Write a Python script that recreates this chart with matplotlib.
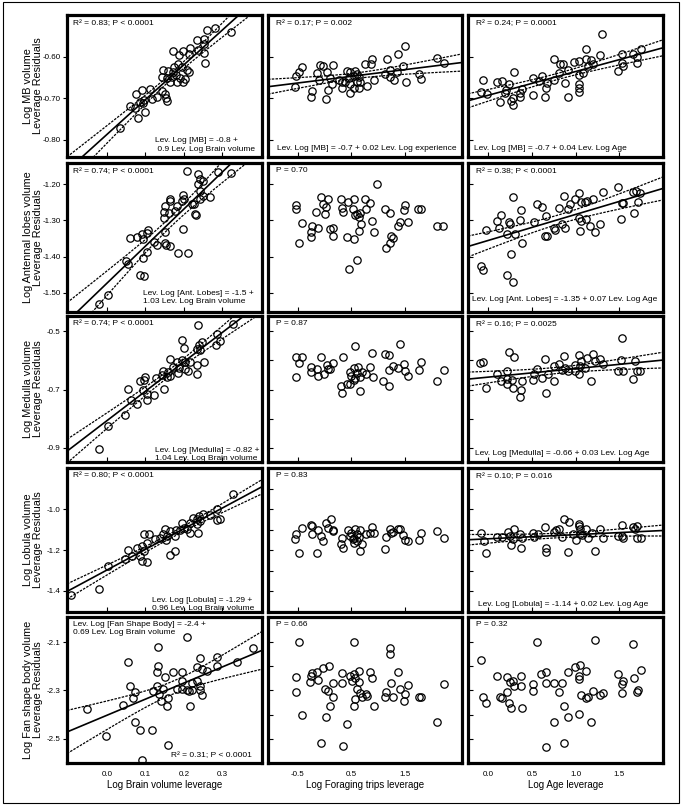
import numpy as np
import matplotlib
matplotlib.use("Agg")
import matplotlib.pyplot as plt
from matplotlib.patches import Rectangle

plt.rcParams['font.family'] = ['Liberation Sans', 'DejaVu Sans']

# ---- column 1: brain volume leverage ----
mb_brain_x = [0.281, 0.259, 0.322, 0.233, 0.251, 0.252, 0.217, 0.237, 0.172, 0.198,
              0.187, 0.214, 0.252, 0.254, 0.185, 0.174, 0.194, 0.146, 0.159, 0.207,
              0.212, 0.142, 0.155, 0.168, 0.179, 0.190, 0.203, 0.181, 0.197, 0.172,
              0.164, 0.075, 0.090, 0.113, 0.142, 0.152, 0.153, 0.155, 0.129, 0.116,
              0.096, 0.086, 0.061, 0.073, 0.100, 0.081, 0.035, 0.094]
mb_brain_y = [-0.530, -0.534, -0.540, -0.560, -0.558, -0.568, -0.578, -0.584, -0.586, -0.586,
              -0.596, -0.592, -0.590, -0.614, -0.616, -0.624, -0.624, -0.632, -0.634, -0.632,
              -0.636, -0.648, -0.650, -0.648, -0.644, -0.650, -0.654, -0.660, -0.660, -0.636,
              -0.660, -0.690, -0.680, -0.678, -0.682, -0.690, -0.698, -0.706, -0.696, -0.702,
              -0.704, -0.708, -0.718, -0.722, -0.732, -0.746, -0.770, -0.712]

al_brain_x = [0.207, 0.237, 0.322, 0.289, 0.241, 0.249, 0.237, 0.241, 0.249, 0.268,
              0.241, 0.197, 0.200, 0.194, 0.164, 0.164, 0.222, 0.226, 0.151, 0.181,
              0.147, 0.160, 0.177, 0.229, 0.231, 0.147, 0.197, 0.151, 0.103, 0.107,
              0.090, 0.093, 0.060, 0.077, 0.122, 0.129, 0.151, 0.153, 0.165, 0.103,
              0.094, 0.185, 0.211, 0.085, 0.097, 0.049, 0.055, 0.003, -0.020]
al_brain_y = [-1.163, -1.172, -1.169, -1.168, -1.186, -1.193, -1.200, -1.219, -1.232, -1.237,
              -1.240, -1.231, -1.242, -1.246, -1.242, -1.246, -1.256, -1.254, -1.260, -1.260,
              -1.277, -1.279, -1.274, -1.284, -1.286, -1.293, -1.323, -1.333, -1.335, -1.327,
              -1.339, -1.353, -1.349, -1.346, -1.361, -1.367, -1.364, -1.367, -1.370, -1.388,
              -1.404, -1.390, -1.390, -1.451, -1.453, -1.411, -1.420, -1.506, -1.531]

med_brain_x = [0.237, 0.328, 0.285, 0.295, 0.283, 0.248, 0.240, 0.235, 0.241, 0.194,
               0.200, 0.233, 0.252, 0.235, 0.164, 0.181, 0.194, 0.203, 0.215, 0.172,
               0.188, 0.203, 0.146, 0.159, 0.185, 0.144, 0.164, 0.155, 0.211, 0.127,
               0.099, 0.085, 0.096, 0.149, 0.055, 0.094, 0.103, 0.123, 0.103, 0.062,
               0.077, 0.046, 0.003, -0.020]
med_brain_y = [-0.479, -0.477, -0.508, -0.534, -0.548, -0.537, -0.548, -0.562, -0.565, -0.531,
               -0.557, -0.617, -0.605, -0.645, -0.594, -0.607, -0.599, -0.605, -0.605, -0.622,
               -0.626, -0.628, -0.637, -0.639, -0.642, -0.649, -0.653, -0.657, -0.637, -0.662,
               -0.657, -0.670, -0.668, -0.699, -0.697, -0.702, -0.714, -0.717, -0.737, -0.734,
               -0.748, -0.786, -0.826, -0.902]

lob_brain_x = [0.328, 0.285, 0.293, 0.285, 0.269, 0.250, 0.239, 0.224, 0.234, 0.241,
               0.217, 0.234, 0.194, 0.200, 0.207, 0.179, 0.190, 0.150, 0.164, 0.237,
               0.216, 0.177, 0.155, 0.146, 0.138, 0.153, 0.096, 0.109, 0.125, 0.103,
               0.090, 0.079, 0.055, 0.064, 0.047, 0.096, 0.086, 0.092, 0.103, 0.177,
               0.164, 0.003, -0.020, -0.094]
lob_brain_y = [-0.926, -0.997, -1.046, -1.053, -1.025, -1.021, -1.030, -1.041, -1.046, -1.058,
               -1.069, -1.074, -1.066, -1.091, -1.095, -1.099, -1.102, -1.095, -1.107, -1.115,
               -1.115, -1.132, -1.132, -1.119, -1.140, -1.148, -1.119, -1.123, -1.145, -1.165,
               -1.178, -1.189, -1.201, -1.227, -1.244, -1.206, -1.227, -1.255, -1.260, -1.206,
               -1.222, -1.277, -1.392, -1.420]

fsb_brain_x = [0.209, 0.133, 0.055, 0.242, 0.285, 0.380, 0.337, 0.133, 0.285, 0.129,
               0.172, 0.196, 0.233, 0.246, 0.259, 0.150, 0.060, 0.073, 0.068, 0.042,
               -0.051, 0.120, 0.129, 0.135, 0.146, 0.140, 0.155, 0.159, 0.181, 0.194,
               0.207, 0.214, 0.220, 0.233, 0.196, 0.220, 0.241, 0.241, 0.246, 0.217,
               0.073, 0.086, 0.118, -0.003, 0.158, 0.090]
fsb_brain_y = [-2.079, -2.121, -2.183, -2.167, -2.163, -2.125, -2.183, -2.197, -2.197, -2.222,
               -2.222, -2.222, -2.204, -2.211, -2.218, -2.246, -2.281, -2.306, -2.333, -2.361,
               -2.378, -2.301, -2.281, -2.314, -2.292, -2.343, -2.364, -2.333, -2.294, -2.292,
               -2.297, -2.301, -2.297, -2.260, -2.260, -2.271, -2.281, -2.299, -2.319, -2.364,
               -2.431, -2.464, -2.464, -2.489, -2.526, -2.589]

# ---- column 2: foraging trips leverage ----
mb_trips_x = [1.50, 1.375, 1.17, 0.877, 0.752, 0.858, 1.469, 2.104, 2.229, 1.22,
              1.363, 1.126, 1.22, 1.30, 1.531, 1.768, 1.811, -0.431, -0.475, -0.537,
              -0.556, -0.245, -0.263, 0.023, -0.139, -0.089, -0.027, 0.036, 0.160, -0.101,
              0.098, 0.067, 0.142, 0.316, 0.316, 0.410, 0.472, 0.565, 0.597, 0.547,
              0.646, 0.460, 0.378, 0.472, 0.597, 0.659, 0.472, 0.547, 0.646, 0.796,
              0.92, 0.273]
mb_trips_y = [-0.574, -0.594, -0.604, -0.604, -0.616, -0.618, -0.621, -0.602, -0.614, -0.632,
              -0.636, -0.640, -0.648, -0.656, -0.660, -0.640, -0.654, -0.624, -0.636, -0.645,
              -0.672, -0.682, -0.696, -0.701, -0.638, -0.620, -0.622, -0.636, -0.620, -0.656,
              -0.650, -0.680, -0.664, -0.660, -0.674, -0.634, -0.636, -0.634, -0.640, -0.646,
              -0.648, -0.650, -0.660, -0.664, -0.660, -0.660, -0.686, -0.674, -0.676, -0.670,
              -0.656, -0.656]

al_trips_x = [0.984, -0.537, -0.537, -0.431, -0.475, -0.245, -0.263, -0.257, -0.120, -0.164,
              -0.070, -0.027, 0.023, 0.067, 0.011, 0.105, 0.154, 0.154, 0.304, 0.316,
              0.347, 0.441, 0.547, 0.534, 0.565, 0.609, 0.659, 0.640, 0.671, 0.646,
              0.547, 0.422, 0.609, 0.460, 0.752, 0.846, 0.783, 0.877, 0.920, 1.126,
              1.22, 1.238, 1.282, 1.22, 1.157, 1.375, 1.419, 1.562, 1.481, 1.50,
              1.749, 1.811, 2.104, 2.217]
al_trips_y = [-1.200, -1.258, -1.270, -1.307, -1.364, -1.316, -1.333, -1.347, -1.321, -1.277,
              -1.237, -1.256, -1.262, -1.242, -1.284, -1.325, -1.321, -1.344, -1.242, -1.265,
              -1.277, -1.249, -1.240, -1.270, -1.286, -1.284, -1.281, -1.290, -1.311, -1.330,
              -1.351, -1.346, -1.409, -1.435, -1.240, -1.251, -1.270, -1.302, -1.333, -1.270,
              -1.281, -1.342, -1.348, -1.364, -1.376, -1.316, -1.304, -1.304, -1.272, -1.258,
              -1.270, -1.270, -1.316, -1.316]

med_trips_x = [-0.537, -0.431, -0.475, -0.544, -0.257, -0.263, -0.139, -0.120, -0.070, -0.014,
               0.036, 0.067, 0.148, 0.098, 0.347, 0.304, 0.328, 0.422, 0.472, 0.472,
               0.565, 0.547, 0.628, 0.497, 0.565, 0.659, 0.597, 0.659, 0.690, 0.771,
               0.846, 0.877, 0.908, 0.547, 1.126, 1.20, 1.207, 1.095, 1.20, 1.282,
               1.407, 1.375, 1.481, 1.50, 1.562, 1.768, 1.811, 2.104, 2.229]
med_trips_y = [-0.589, -0.589, -0.610, -0.657, -0.622, -0.639, -0.630, -0.653, -0.587, -0.645,
               -0.616, -0.628, -0.608, -0.630, -0.590, -0.689, -0.711, -0.680, -0.680, -0.639,
               -0.552, -0.625, -0.622, -0.653, -0.660, -0.657, -0.642, -0.705, -0.639, -0.645,
               -0.624, -0.575, -0.657, -0.668, -0.578, -0.581, -0.633, -0.671, -0.689, -0.618,
               -0.544, -0.625, -0.614, -0.637, -0.654, -0.633, -0.607, -0.671, -0.633]

lob_trips_x = [-0.537, -0.556, -0.431, -0.475, -0.263, -0.245, -0.245, -0.151, -0.120, -0.070,
               -0.027, 0.023, 0.067, 0.111, 0.148, 0.148, 0.316, 0.304, 0.347, 0.441,
               0.472, 0.522, 0.553, 0.565, 0.597, 0.659, 0.646, 0.690, 0.659, 0.783,
               0.846, 0.877, 0.920, 1.126, 1.157, 1.232, 1.25, 1.282, 1.375, 1.419,
               1.469, 1.50, 1.562, 1.768, 1.811, 2.104, 2.229, 0.547, 0.597, 0.497]
lob_trips_y = [-1.123, -1.144, -1.090, -1.215, -1.077, -1.079, -1.123, -1.213, -1.102, -1.131,
               -1.155, -1.066, -1.090, -1.047, -1.102, -1.106, -1.139, -1.171, -1.187, -1.102,
               -1.131, -1.147, -1.163, -1.094, -1.119, -1.103, -1.135, -1.168, -1.203, -1.119,
               -1.115, -1.087, -1.115, -1.195, -1.134, -1.094, -1.115, -1.110, -1.098, -1.094,
               -1.126, -1.152, -1.155, -1.152, -1.118, -1.106, -1.139, -1.142, -1.155, -1.115]

fsb_trips_x = [-0.475, 0.553, 1.22, 1.232, -0.544, -0.537, -0.431, -0.263, -0.245, -0.276,
               -0.139, -0.120, -0.027, 0.080, 0.011, 0.067, 0.148, 0.098, 0.023, -0.070,
               0.160, 0.316, 0.316, 0.347, 0.422, 0.472, 0.503, 0.547, 0.565, 0.646,
               0.646, 0.609, 0.565, 0.553, 0.659, 0.690, 0.771, 0.796, 0.846, 0.877,
               0.920, 1.126, 1.157, 1.238, 1.282, 1.375, 1.419, 1.481, 1.50, 1.562,
               1.768, 1.811, 2.104, 2.229]
fsb_trips_y = [-2.100, -2.100, -2.125, -2.149, -2.246, -2.308, -2.403, -2.239, -2.228, -2.264,
               -2.222, -2.256, -2.208, -2.197, -2.292, -2.304, -2.329, -2.364, -2.410, -2.519,
               -2.269, -2.228, -2.269, -2.528, -2.440, -2.242, -2.260, -2.232, -2.250, -2.218,
               -2.264, -2.292, -2.336, -2.364, -2.311, -2.325, -2.315, -2.322, -2.225, -2.250,
               -2.364, -2.329, -2.308, -2.269, -2.325, -2.222, -2.292, -2.343, -2.315, -2.278,
               -2.329, -2.329, -2.429, -2.274]

# ---- column 3: age leverage ----
mb_age_x = [1.30, 1.121, 1.281, 1.121, 1.034, 0.748, 0.824, 0.862, 0.984, 1.178,
            1.140, 1.205, 1.529, 1.655, 1.75, 1.70, 1.70, 1.529, 1.548, 1.484,
            0.297, 0.908, 1.083, 1.045, 0.816, -0.053, 0.099, 0.156, 0.244, 0.519,
            0.614, 0.587, 0.671, 0.755, 0.881, 0.664, 1.045, 1.045, 1.045, -0.084,
            -0.015, 0.206, 0.191, 0.366, 0.385, 0.290, 0.259, 0.290, 0.137, 0.366,
            0.519, 0.652, 0.919]
mb_age_y = [-0.544, -0.580, -0.596, -0.604, -0.610, -0.606, -0.616, -0.618, -0.612, -0.608,
            -0.622, -0.618, -0.594, -0.592, -0.582, -0.600, -0.614, -0.614, -0.622, -0.634,
            -0.636, -0.632, -0.638, -0.644, -0.638, -0.656, -0.660, -0.658, -0.666, -0.650,
            -0.646, -0.658, -0.662, -0.656, -0.662, -0.674, -0.666, -0.674, -0.684, -0.684,
            -0.690, -0.680, -0.688, -0.686, -0.678, -0.698, -0.706, -0.716, -0.708, -0.696,
            -0.692, -0.696, -0.696]

al_age_x = [0.290, 0.145, 0.107, 0.244, 0.252, 0.130, 0.214, 0.309, 0.385, 0.259,
            0.374, 0.366, -0.027, -0.084, -0.053, 0.214, 0.290, 0.526, 0.557, 0.614,
            0.664, 0.652, 0.671, 0.748, 0.767, 0.812, 0.870, 0.908, 0.931, 0.995,
            1.045, 1.060, 1.110, 1.129, 1.205, 1.312, 0.843, 0.881, 1.045, 1.060,
            1.053, 1.121, 1.167, 1.217, 1.281, 1.491, 1.655, 1.693, 1.739, 1.529,
            1.548, 1.709, 1.663, 1.518]
al_age_y = [-1.237, -1.286, -1.302, -1.304, -1.311, -1.321, -1.337, -1.337, -1.362, -1.392,
            -1.271, -1.299, -1.328, -1.426, -1.437, -1.451, -1.469, -1.304, -1.256, -1.262,
            -1.288, -1.344, -1.344, -1.321, -1.328, -1.265, -1.232, -1.269, -1.256, -1.242,
            -1.226, -1.249, -1.249, -1.246, -1.242, -1.223, -1.311, -1.321, -1.293, -1.302,
            -1.330, -1.296, -1.316, -1.333, -1.311, -1.209, -1.221, -1.220, -1.225, -1.251,
            -1.253, -1.249, -1.281, -1.297]

med_age_x = [1.529, 0.244, 0.297, -0.092, -0.053, -0.027, 0.099, 0.145, 0.214, 0.221,
             0.214, 0.271, 0.290, 0.374, 0.366, 0.385, 0.519, 0.526, 0.564, 0.614,
             0.652, 0.664, 0.690, 0.748, 0.755, 0.805, 0.843, 0.873, 0.881, 0.919,
             0.995, 1.045, 1.060, 1.053, 1.045, 1.110, 1.129, 1.178, 1.205, 1.224,
             1.281, 1.312, 1.491, 1.518, 1.548, 1.655, 1.682, 1.701, 1.739, 0.995]
med_age_y = [-0.523, -0.572, -0.590, -0.608, -0.607, -0.695, -0.645, -0.671, -0.637, -0.665,
             -0.682, -0.668, -0.694, -0.700, -0.726, -0.671, -0.668, -0.645, -0.630, -0.660,
             -0.596, -0.711, -0.645, -0.671, -0.619, -0.614, -0.633, -0.584, -0.625, -0.637,
             -0.637, -0.581, -0.602, -0.619, -0.648, -0.625, -0.593, -0.671, -0.578, -0.602,
             -0.595, -0.614, -0.637, -0.599, -0.637, -0.665, -0.602, -0.637, -0.637, -0.616]

lob_age_x = [0.870, 0.927, 1.045, 1.045, 1.053, -0.084, -0.046, -0.027, 0.107, 0.156,
             0.233, 0.297, 0.252, 0.290, 0.259, 0.366, 0.378, 0.385, 0.519, 0.526,
             0.568, 0.652, 0.664, 0.664, 0.748, 0.774, 0.816, 0.843, 0.919, 1.007,
             1.053, 1.121, 1.137, 1.186, 1.224, 1.281, 1.312, 1.529, 1.529, 1.491,
             1.548, 1.655, 1.701, 1.682, 1.701, 1.747, 0.976, 1.072]
lob_age_y = [-1.045, -1.061, -1.071, -1.082, -1.098, -1.115, -1.155, -1.215, -1.134, -1.134,
             -1.110, -1.098, -1.131, -1.147, -1.174, -1.123, -1.190, -1.142, -1.115, -1.134,
             -1.119, -1.087, -1.190, -1.211, -1.110, -1.103, -1.098, -1.134, -1.211, -1.150,
             -1.119, -1.094, -1.142, -1.115, -1.206, -1.098, -1.139, -1.077, -1.131, -1.131,
             -1.142, -1.087, -1.082, -1.098, -1.142, -1.142, -1.123, -1.126]

fsb_age_x = [0.557, 1.217, 1.655, -0.084, -0.053, -0.027, 0.107, 0.137, 0.156, 0.214,
             0.221, 0.244, 0.259, 0.252, 0.297, 0.290, 0.374, 0.374, 0.393, 0.519,
             0.519, 0.606, 0.660, 0.660, 0.759, 0.812, 0.843, 0.748, 0.873, 0.919,
             0.870, 0.660, 0.908, 0.995, 1.045, 1.053, 1.045, 1.121, 1.060, 1.045,
             1.121, 1.140, 1.175, 1.205, 1.274, 1.312, 1.484, 1.529, 1.548, 1.529,
             1.663, 1.709, 1.701, 1.751]
fsb_age_y = [-2.100, -2.093, -2.107, -2.172, -2.329, -2.350, -2.242, -2.329, -2.333, -2.243,
             -2.308, -2.350, -2.374, -2.264, -2.281, -2.260, -2.239, -2.281, -2.371, -2.274,
             -2.301, -2.232, -2.225, -2.271, -2.271, -2.306, -2.271, -2.431, -2.364, -2.408,
             -2.519, -2.533, -2.222, -2.204, -2.253, -2.194, -2.242, -2.218, -2.319, -2.399,
             -2.333, -2.325, -2.431, -2.301, -2.319, -2.311, -2.232, -2.274, -2.260, -2.311,
             -2.250, -2.297, -2.308, -2.214]

# ---- axes, ticks, labels ----
row_ylabels = ["Log MB volume\nLeverage Residuals",
               "Log Antennal lobes volume\nLeverage Residuals",
               "Log Medulla volume\nLeverage Residuals",
               "Log Lobula volume\nLeverage Residuals",
               "Log Fan shape body volume\nLeverage Residuals"]
col_xlabels = ["Log Brain volume leverage", "Log Foraging trips leverage", "Log Age leverage"]

col_xlims = [(-0.104, 0.403), (-1.06, 2.57), (-0.23, 2.0)]
col_xticks = [[0.0, 0.1, 0.2, 0.3], [-0.5, 0.5, 1.5], [0.0, 0.5, 1.0, 1.5]]
col_xticklabels = [["0.0", "0.1", "0.2", "0.3"], ["-0.5", "0.5", "1.5"], ["0.0", "0.5", "1.0", "1.5"]]

row_ylims = [(-0.841, -0.499), (-1.553, -1.142), (-0.948, -0.448), (-1.503, -0.797), (-2.60, -1.996)]
row_yticks_lab = [[-0.60, -0.70, -0.80], [-1.20, -1.30, -1.40, -1.50], [-0.5, -0.7, -0.9],
                  [-1.0, -1.2, -1.4], [-2.1, -2.3, -2.5]]
row_yticklabels = [["-0.60", "-0.70", "-0.80"], ["-1.20", "-1.30", "-1.40", "-1.50"],
                   ["-0.5", "-0.7", "-0.9"], ["-1.0", "-1.2", "-1.4"], ["-2.1", "-2.3", "-2.5"]]
row_yticks_in = [[-0.60, -0.70, -0.80], [-1.2, -1.3, -1.4, -1.5], [-0.5, -0.6, -0.7, -0.8, -0.9],
                 [-0.9, -1.0, -1.1, -1.2, -1.3, -1.4], [-2.1, -2.2, -2.3, -2.4, -2.5]]

# pixel geometry of the panel frames
col_px = [(67, 262), (268, 462), (468, 663)]
row_px = [(15, 157), (163, 312), (316, 462), (468, 612), (617, 763)]

panels = [
    [(mb_brain_x, mb_brain_y, True), (mb_trips_x, mb_trips_y, True), (mb_age_x, mb_age_y, True)],
    [(al_brain_x, al_brain_y, True), (al_trips_x, al_trips_y, False), (al_age_x, al_age_y, True)],
    [(med_brain_x, med_brain_y, True), (med_trips_x, med_trips_y, False), (med_age_x, med_age_y, True)],
    [(lob_brain_x, lob_brain_y, True), (lob_trips_x, lob_trips_y, False), (lob_age_x, lob_age_y, True)],
    [(fsb_brain_x, fsb_brain_y, True), (fsb_trips_x, fsb_trips_y, False), (fsb_age_x, fsb_age_y, False)],
]

# (text, x, y, ha, va) in axes fraction
panel_texts = [
    [[("R² = 0.83; P < 0.0001", 0.03, 0.965, 'left', 'top'),
      ("Lev. Log [MB] = -0.8 +\n 0.9 Lev. Log Brain volume", 0.45, 0.03, 'left', 'bottom')],
     [("R² = 0.17; P = 0.002", 0.04, 0.965, 'left', 'top'),
      ("Lev. Log [MB] = -0.7 + 0.02 Lev. Log experience", 0.045, 0.035, 'left', 'bottom')],
     [("R² = 0.24; P = 0.0001", 0.04, 0.965, 'left', 'top'),
      ("Lev. Log [MB] = -0.7 + 0.04 Lev. Log Age", 0.03, 0.035, 'left', 'bottom')]],
    [[("R² = 0.74; P < 0.0001", 0.03, 0.965, 'left', 'top'),
      ("Lev. Log [Ant. Lobes] = -1.5 +\n1.03 Lev. Log Brain volume", 0.39, 0.045, 'left', 'bottom')],
     [("P = 0.70", 0.04, 0.975, 'left', 'top')],
     [("R² = 0.38; P < 0.0001", 0.04, 0.965, 'left', 'top'),
      ("Lev. Log [Ant. Lobes] = -1.35 + 0.07 Lev. Log Age", 0.02, 0.06, 'left', 'bottom')]],
    [[("R² = 0.74; P < 0.0001", 0.03, 0.975, 'left', 'top'),
      ("Lev. Log [Medulla] = -0.82 +\n1.04 Lev. Log Brain volume", 0.45, 0.0, 'left', 'bottom')],
     [("P = 0.87", 0.04, 0.975, 'left', 'top')],
     [("R² = 0.16; P = 0.0025", 0.04, 0.965, 'left', 'top'),
      ("Lev. Log [Medulla] = -0.66 + 0.03 Lev. Log Age", 0.035, 0.035, 'left', 'bottom')]],
    [[("R² = 0.80; P < 0.0001", 0.03, 0.975, 'left', 'top'),
      ("Lev. Log [Lobula] = -1.29 +\n0.96 Lev. Log Brain volume", 0.435, 0.0, 'left', 'bottom')],
     [("P = 0.83", 0.04, 0.975, 'left', 'top')],
     [("R² = 0.10; P = 0.016", 0.04, 0.965, 'left', 'top'),
      ("Lev. Log [Lobula] = -1.14 + 0.02 Lev. Log Age", 0.05, 0.03, 'left', 'bottom')]],
    [[("Lev. Log [Fan Shape Body] = -2.4 +\n0.69 Lev. Log Brain volume", 0.03, 0.975, 'left', 'top'),
      ("R² = 0.31; P < 0.0001", 0.95, 0.03, 'right', 'bottom')],
     [("P = 0.66", 0.04, 0.975, 'left', 'top')],
     [("P = 0.32", 0.04, 0.975, 'left', 'top')]],
]


def draw_fit(ax, x, y, xlim):
    x = np.asarray(x)
    y = np.asarray(y)
    n = len(x)
    slope, icpt = np.polyfit(x, y, 1)
    xs = np.linspace(xlim[0], xlim[1], 120)
    yhat = icpt + slope * xs
    resid = y - (icpt + slope * x)
    s = np.sqrt(np.sum(resid ** 2) / (n - 2))
    se = s * np.sqrt(1.0 / n + (xs - x.mean()) ** 2 / np.sum((x - x.mean()) ** 2))
    ax.plot(xs, yhat, color='black', lw=1.2, zorder=2)
    ax.plot(xs, yhat + 2.0 * se, color='black', lw=0.9, ls=(0, (2, 1)), zorder=2)
    ax.plot(xs, yhat - 2.0 * se, color='black', lw=0.9, ls=(0, (2, 1)), zorder=2)


W, H = 681, 805
fig = plt.figure(figsize=(W / 100, H / 100), dpi=100)
fig.patches.append(Rectangle((3 / W, 2 / H), 1 - 5 / W, 1 - 4 / H, transform=fig.transFigure,
                             fill=False, edgecolor='black', lw=0.8))

for r in range(5):
    top, bot = row_px[r]
    for c in range(3):
        left, right = col_px[c]
        ax = fig.add_axes([left / W, 1 - bot / H, (right - left) / W, (bot - top) / H])
        x, y, has_fit = panels[r][c]
        ax.set_xlim(col_xlims[c])
        ax.set_ylim(row_ylims[r])
        if has_fit:
            draw_fit(ax, x, y, col_xlims[c])
        ax.plot(x, y, 'o', mfc='none', mec='black', ms=5.3, mew=0.9, zorder=3)
        for s in ax.spines.values():
            s.set_linewidth(2.3)

        ax.set_xticks(col_xticks[c])
        if r == 4:
            ax.set_xticklabels(col_xticklabels[c], fontsize=5.8)
            ax.tick_params(axis='x', direction='in', length=0, pad=6)
            ax.set_xlabel(col_xlabels[c], fontsize=7, labelpad=1)
        else:
            ax.set_xticklabels([])
            ax.tick_params(axis='x', direction='in', length=3.5, width=0.8)

        if c == 0:
            ax.set_yticks(row_yticks_lab[r])
            ax.set_yticklabels(row_yticklabels[r], fontsize=5.8)
            ax.tick_params(axis='y', direction='out', length=3, width=0.8, pad=1.5)
            fig.text(33 / W, 1 - (top + bot) / 2 / H, row_ylabels[r], rotation=90,
                     ha='center', va='center', fontsize=7.8, multialignment='center',
                     linespacing=1.0)
        else:
            ax.set_yticks(row_yticks_in[r])
            ax.set_yticklabels([])
            ax.tick_params(axis='y', direction='in', length=3.5, width=0.8)

        for txt, tx, ty, ha, va in panel_texts[r][c]:
            ax.text(tx, ty, txt, transform=ax.transAxes, ha=ha, va=va, fontsize=6.0,
                    linespacing=1.25, zorder=4)

fig.savefig("out.png", dpi=100)
